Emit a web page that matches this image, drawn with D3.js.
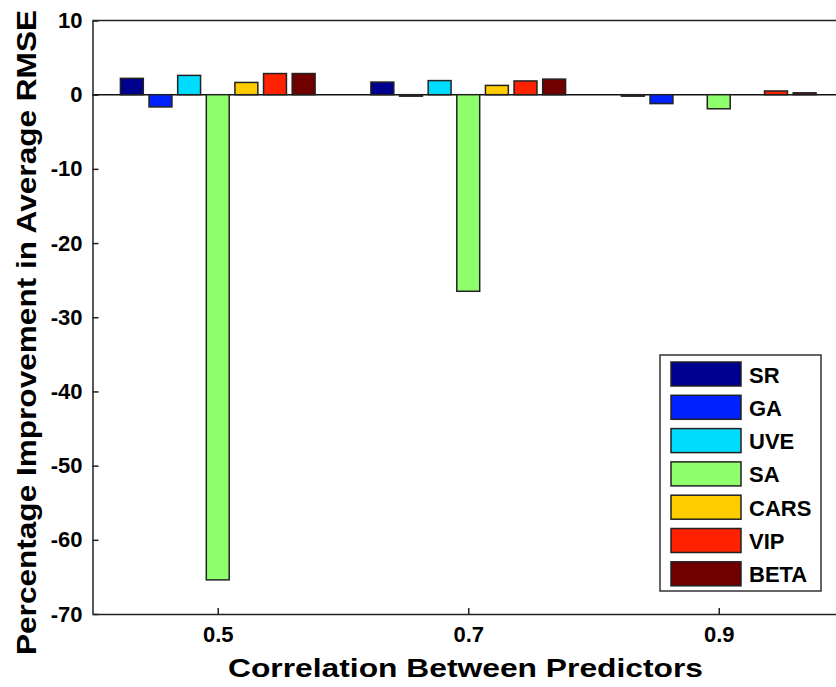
<!DOCTYPE html>
<html>
<head>
<meta charset="utf-8">
<script src="https://cdn.jsdelivr.net/npm/d3@7"></script>
<style>
  html, body { margin: 0; padding: 0; background: #fff; }
  svg { display: block; font-family: "Liberation Sans", Arial, sans-serif; }
</style>
</head>
<body>
<svg id="chart" width="836" height="687"></svg>
<script>
// Correlation levels (x categories) and the methods compared in each group
const categories = ["0.5", "0.7", "0.9"];
const seriesNames = ["SR", "GA", "UVE", "SA", "CARS", "VIP", "BETA"];
const seriesColors = ["#00008f", "#0022ff", "#00dcff", "#90ff6e", "#ffcc00", "#ff2200", "#700000"];

// Percentage improvement in average RMSE, one array per method (0.5, 0.7, 0.9)
const SR   = [2.2, 1.7, -0.2];
const GA   = [-1.65, -0.2, -1.2];
const UVE  = [2.6, 1.9, 0.0];
const SA   = [-65.4, -26.5, -1.9];
const CARS = [1.65, 1.25, 0.0];
const VIP  = [2.85, 1.85, 0.5];
const BETA = [2.85, 2.1, 0.25];
const seriesValues = [SR, GA, UVE, SA, CARS, VIP, BETA];

const yTicks = [10, 0, -10, -20, -30, -40, -50, -60, -70];

const svg = d3.select("#chart");
const plotLeft = 92.5, plotTop = 20.5, plotBottom = 614;
const unit = 250.5;

const x = d3.scaleLinear().domain([0.5, 3.5]).range([plotLeft, plotLeft + 3 * unit]);
const y = d3.scaleLinear().domain([-70, 10]).range([plotBottom, plotTop]);

// position of each method inside a group
const inner = d3.scaleBand()
  .domain(seriesNames)
  .range([-0.4 * unit, 0.4 * unit])
  .paddingInner(0.2)
  .paddingOuter(0.1);

// zero baseline
svg.append("line")
  .attr("x1", x(0.5)).attr("x2", x(3.5))
  .attr("y1", y(0)).attr("y2", y(0))
  .attr("stroke", "#111").attr("stroke-width", 1.5);

// bars
seriesNames.forEach((name, si) => {
  svg.append("g").selectAll("rect")
    .data(seriesValues[si])
    .join("rect")
    .attr("x", (d, i) => x(i + 1) + inner(name))
    .attr("width", inner.bandwidth())
    .attr("y", d => y(Math.max(0, d)))
    .attr("height", d => Math.abs(y(d) - y(0)))
    .attr("fill", seriesColors[si])
    .attr("stroke", "#222")
    .attr("stroke-width", 1.5);
});

// frame top edge
svg.append("line")
  .attr("x1", x(0.5)).attr("x2", x(3.5))
  .attr("y1", plotTop).attr("y2", plotTop)
  .attr("stroke", "#222").attr("stroke-width", 1.5);

// y axis with inward ticks, plain hyphen for negatives
const yAxis = svg.append("g")
  .attr("transform", `translate(${plotLeft},0)`)
  .call(d3.axisLeft(y).tickValues(yTicks).tickFormat(d => String(d))
    .tickSizeInner(-6).tickSizeOuter(0).tickPadding(10));
yAxis.select(".domain").attr("stroke", "#222").attr("stroke-width", 1.5);
yAxis.selectAll(".tick line").attr("stroke", "#222").attr("stroke-width", 1.5);
yAxis.selectAll(".tick text")
  .attr("font-size", 22).attr("font-weight", "bold").attr("fill", "#000")
  .attr("font-family", "'Liberation Sans Narrow', 'Liberation Sans', Arial, sans-serif");

// x axis with inward ticks
const xAxis = svg.append("g")
  .attr("transform", `translate(0,${plotBottom})`)
  .call(d3.axisBottom(x).tickValues([1, 2, 3]).tickFormat((d, i) => categories[i])
    .tickSizeInner(-6).tickSizeOuter(0).tickPadding(12));
xAxis.select(".domain").attr("stroke", "#222").attr("stroke-width", 1.5);
xAxis.selectAll(".tick line").attr("stroke", "#222").attr("stroke-width", 1.5);
xAxis.selectAll(".tick text")
  .attr("font-size", 22).attr("font-weight", "bold").attr("fill", "#000")
  .attr("font-family", "'Liberation Sans Narrow', 'Liberation Sans', Arial, sans-serif");

// axis titles
svg.append("text")
  .attr("x", 465.5).attr("y", 677)
  .attr("text-anchor", "middle")
  .attr("font-size", 26).attr("font-weight", "bold")
  .attr("textLength", 475).attr("lengthAdjust", "spacingAndGlyphs")
  .text("Correlation Between Predictors");

svg.append("text")
  .attr("transform", "translate(36,332.5) rotate(-90)")
  .attr("text-anchor", "middle")
  .attr("font-size", 27).attr("font-weight", "bold")
  .attr("textLength", 645).attr("lengthAdjust", "spacingAndGlyphs")
  .text("Percentage Improvement in Average RMSE");

// legend
const lg = svg.append("g").attr("transform", "translate(660,355)");
lg.append("rect")
  .attr("width", 161).attr("height", 236)
  .attr("fill", "#fff").attr("stroke", "#333").attr("stroke-width", 1.5);
const rows = lg.selectAll("g.row")
  .data(seriesNames)
  .join("g")
  .attr("class", "row")
  .attr("transform", (d, i) => `translate(11,${7 + i * 33.3})`);
rows.append("rect")
  .attr("width", 70).attr("height", 24)
  .attr("fill", (d, i) => seriesColors[i])
  .attr("stroke", "#222").attr("stroke-width", 1.5);
rows.append("text")
  .attr("x", 78).attr("y", 20.5)
  .attr("font-size", 22).attr("font-weight", "bold")
  .text(d => d);
</script>
</body>
</html>
